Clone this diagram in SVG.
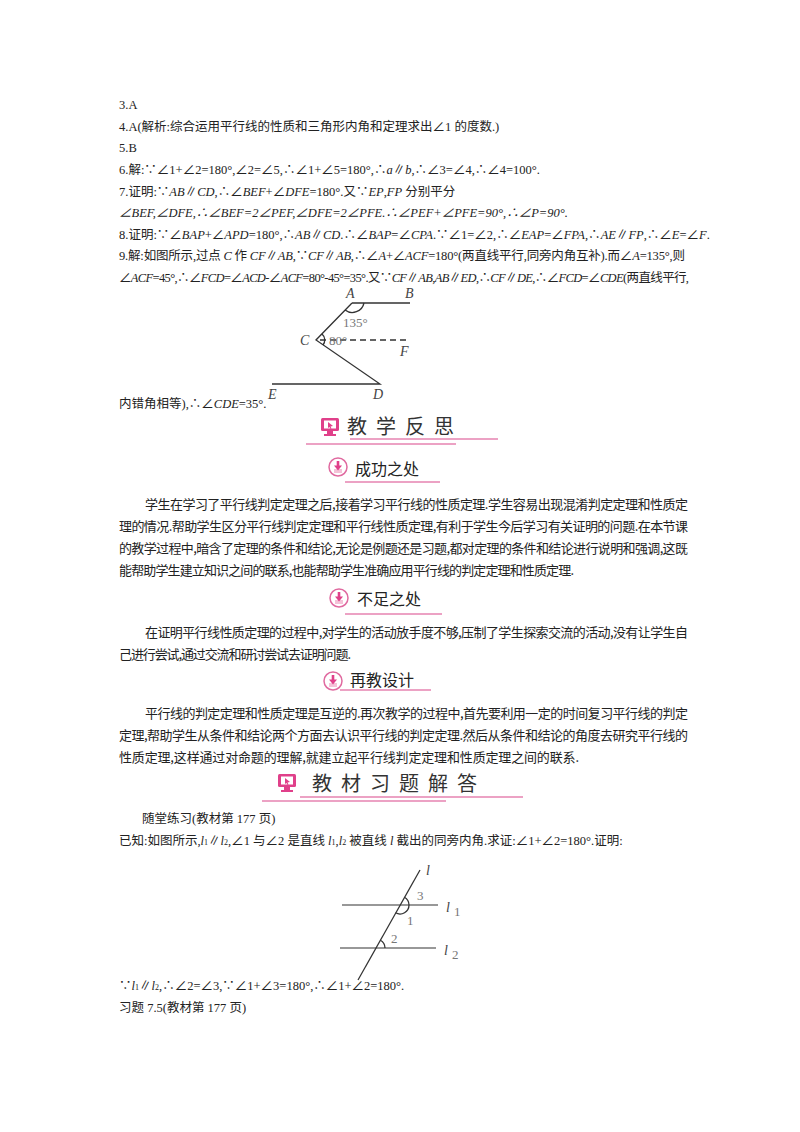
<svg xmlns="http://www.w3.org/2000/svg" width="800" height="1132" viewBox="0 0 800 1132">
<style>
.t{font-family:"Liberation Serif","Noto Sans CJK SC",serif;font-size:12.5px;fill:#222}
.c{font-family:"Noto Sans CJK SC",sans-serif;font-size:13px;fill:#222}
.i{font-style:italic}
.h1{font-family:"Noto Sans CJK SC",sans-serif;font-size:20px;fill:#333;letter-spacing:9px}
.h2{font-family:"Noto Sans CJK SC",sans-serif;font-size:16px;fill:#222}
.pk{stroke:#d9478a;stroke-width:1.2;fill:none}
.ln{stroke:#333;stroke-width:1.3;fill:none}
.gl{stroke:#777;stroke-width:1.5;fill:none}
.lb{font-family:"Liberation Serif",serif;font-style:italic;font-size:14px;fill:#444}
.lg{font-family:"Liberation Serif",serif;font-size:13px;fill:#777}
</style>
<defs>
<g id="mon"><rect x="-9" y="-8" width="18" height="13" rx="1.5" fill="#e0408a"/><rect x="-6" y="-5.5" width="12" height="8" fill="#fff"/><path d="M-2,-4 L3,0 L0.5,0.5 L1.5,2.5 L0.5,3 L-0.5,1 L-2,2 Z" fill="#e0408a"/><rect x="-3" y="5" width="6" height="3" fill="#e0408a"/><rect x="-6" y="8" width="12" height="2" fill="#e0408a"/></g>
<g id="dl"><circle r="9" fill="#fff" stroke="#e06aa0" stroke-width="1.5"/><path d="M-4,2 L-4,6 L4,6 L4,2" fill="#f5c2d8"/><rect x="-1.3" y="-6" width="2.6" height="5" fill="#e0408a"/><path d="M-4,-1.5 L4,-1.5 L0,3.5Z" fill="#e0408a"/></g>
</defs>
<g id="text1">
<text class="t" x="119" y="109">3.A</text>
<text class="t" x="119" y="131">4.A(解析:综合运用平行线的性质和三角形内角和定理求出∠1 的度数.)</text>
<text class="t" x="119" y="152">5.B</text>
<text class="t" x="119" y="174">6.解:∵∠1+∠2=180°,∠2=∠5,∴∠1+∠5=180°,∴<tspan class="i">a</tspan>∥<tspan class="i">b</tspan>,∴∠3=∠4,∴∠4=100°.</text>
<text class="t" x="119" y="196">7.证明:∵<tspan class="i">AB</tspan>∥<tspan class="i">CD</tspan>,∴∠<tspan class="i">BEF</tspan>+∠<tspan class="i">DFE</tspan>=180°.又∵<tspan class="i">EP</tspan>,<tspan class="i">FP</tspan> 分别平分</text>
<text class="t i" x="119" y="217">∠BEF,∠DFE,∴∠BEF=2∠PEF,∠DFE=2∠PFE.∴∠PEF+∠PFE=90°,∴∠P=90°.</text>
<text class="t" x="119" y="239">8.证明:∵∠<tspan class="i">BAP</tspan>+∠<tspan class="i">APD</tspan>=180°,∴<tspan class="i">AB</tspan>∥<tspan class="i">CD</tspan>.∴∠<tspan class="i">BAP</tspan>=∠<tspan class="i">CPA</tspan>.∵∠1=∠2,∴∠<tspan class="i">EAP</tspan>=∠<tspan class="i">FPA</tspan>,∴<tspan class="i">AE</tspan>∥<tspan class="i">FP</tspan>,∴∠<tspan class="i">E</tspan>=∠<tspan class="i">F</tspan>.</text>
<text class="t" x="119" y="260" textLength="566">9.解:如图所示,过点 <tspan class="i">C</tspan> 作 <tspan class="i">CF</tspan>∥<tspan class="i">AB</tspan>,∵<tspan class="i">CF</tspan>∥<tspan class="i">AB</tspan>,∴∠<tspan class="i">A</tspan>+∠<tspan class="i">ACF</tspan>=180°(两直线平行,同旁内角互补).而∠<tspan class="i">A</tspan>=135°,则</text>
<text class="t" x="119" y="282" textLength="570">∠<tspan class="i">ACF</tspan>=45°,∴∠<tspan class="i">FCD</tspan>=∠<tspan class="i">ACD</tspan>-∠<tspan class="i">ACF</tspan>=80°-45°=35°.又∵<tspan class="i">CF</tspan>∥<tspan class="i">AB</tspan>,<tspan class="i">AB</tspan>∥<tspan class="i">ED</tspan>,∴<tspan class="i">CF</tspan>∥<tspan class="i">DE</tspan>,∴∠<tspan class="i">FCD</tspan>=∠<tspan class="i">CDE</tspan>(两直线平行,</text>
<text class="t" x="119" y="408">内错角相等),∴∠<tspan class="i">CDE</tspan>=35°.</text>
</g>
<g id="fig1">
<path class="ln" d="M352,303 L410,303 M352,303 L316,340 L380,384 L272,384"/>
<path class="ln" d="M320,340 L410,340" stroke-dasharray="6,4"/>
<path class="ln" d="M345,310 A12,12 0 0 0 364,303" stroke-width="1"/>
<path class="ln" d="M322,334 A8,8 0 0 1 323,345" stroke-width="1"/>
<text class="lb" x="346" y="298">A</text><text class="lb" x="405" y="298">B</text>
<text class="lg" x="343" y="327">135°</text>
<text class="lb" x="300" y="345">C</text><text class="lg" x="329" y="345" font-size="14">80°</text>
<text class="lb" x="400" y="356">F</text>
<text class="lb" x="268" y="399">E</text><text class="lb" x="373" y="399">D</text>
</g>
<g id="h-jxfs">
<use href="#mon" x="330" y="426"/>
<text class="h1" x="347" y="434">教学反思</text>
<path class="pk" d="M350,439 L498,439 M306,444 L456,444"/>
</g>
<g id="h-cgzc"><use href="#dl" x="338" y="467"/><text class="h2" x="355" y="475">成功之处</text><path class="pk" d="M345,482 L440,482"/></g>
<g id="p1">
<text class="c" x="145" y="509" textLength="543">学生在学习了平行线判定定理之后,接着学习平行线的性质定理.学生容易出现混淆判定定理和性质定</text>
<text class="c" x="119" y="531" textLength="569">理的情况.帮助学生区分平行线判定定理和平行线性质定理,有利于学生今后学习有关证明的问题.在本节课</text>
<text class="c" x="119" y="553" textLength="569">的教学过程中,暗含了定理的条件和结论,无论是例题还是习题,都对定理的条件和结论进行说明和强调,这既</text>
<text class="c" x="119" y="575" textLength="455">能帮助学生建立知识之间的联系,也能帮助学生准确应用平行线的判定定理和性质定理.</text>
</g>
<g id="h-bzzc"><use href="#dl" x="339" y="598"/><text class="h2" x="357" y="605">不足之处</text><path class="pk" d="M345,614 L442,614"/></g>
<g id="p2">
<text class="c" x="145" y="637" textLength="543">在证明平行线性质定理的过程中,对学生的活动放手度不够,压制了学生探索交流的活动,没有让学生自</text>
<text class="c" x="119" y="659" textLength="232">己进行尝试,通过交流和研讨尝试去证明问题.</text>
</g>
<g id="h-zjsj"><use href="#dl" x="333" y="681"/><text class="h2" x="350" y="686">再教设计</text><path class="pk" d="M340,690 L431,690"/></g>
<g id="p3">
<text class="c" x="145" y="718" textLength="543">平行线的判定定理和性质定理是互逆的.再次教学的过程中,首先要利用一定的时间复习平行线的判定</text>
<text class="c" x="119" y="740" textLength="569">定理,帮助学生从条件和结论两个方面去认识平行线的判定定理.然后从条件和结论的角度去研究平行线的</text>
<text class="c" x="119" y="762" textLength="460">性质定理,这样通过对命题的理解,就建立起平行线判定定理和性质定理之间的联系.</text>
</g>
<g id="h-jcxt">
<use href="#mon" x="287" y="782"/>
<text class="h1" x="312" y="791">教材习题解答</text>
<path class="pk" d="M300,797 L523,797 M262,801 L446,801"/>
</g>
<g id="text2">
<text class="t" x="142" y="823">随堂练习(教材第 177 页)</text>
<text class="t" x="119" y="845"><tspan>已知:如图所示,</tspan><tspan class="i">l</tspan><tspan font-size="8">1</tspan>∥<tspan class="i">l</tspan><tspan font-size="8">2</tspan>,∠1 与∠2 是直线 <tspan class="i">l</tspan><tspan font-size="8">1</tspan>,<tspan class="i">l</tspan><tspan font-size="8">2</tspan> 被直线 <tspan class="i">l</tspan> 截出的同旁内角.求证:∠1+∠2=180°.证明:</text>
<text class="t" x="119" y="990">∵<tspan class="i">l</tspan><tspan font-size="8">1</tspan>∥<tspan class="i">l</tspan><tspan font-size="8">2</tspan>,∴∠2=∠3,∵∠1+∠3=180°,∴∠1+∠2=180°.</text>
<text class="t" x="119" y="1012">习题 7.5(教材第 177 页)</text>
</g>
<g id="fig2">
<path class="gl" d="M342,905 L438,905 M340,948 L436,948"/>
<path class="ln" d="M358,980 L420,870"/>
<path class="ln" d="M404.4,897.2 A9,9 0 0 1 409,905 A9,9 0 0 1 395.6,912.8" stroke-width="1"/>
<path class="ln" d="M380.4,940.2 A9,9 0 0 1 385,948" stroke-width="1"/>
<text class="lb" x="426" y="875" font-size="16">l</text>
<text class="lg" x="417" y="900">3</text><text class="lg" x="407" y="925">1</text><text class="lg" x="391" y="943">2</text>
<text class="lb" x="446" y="912" font-size="16">l</text><text class="lg" x="454" y="916" font-size="9">1</text>
<text class="lb" x="444" y="955" font-size="16">l</text><text class="lg" x="452" y="959" font-size="9">2</text>
</g>
</svg>
